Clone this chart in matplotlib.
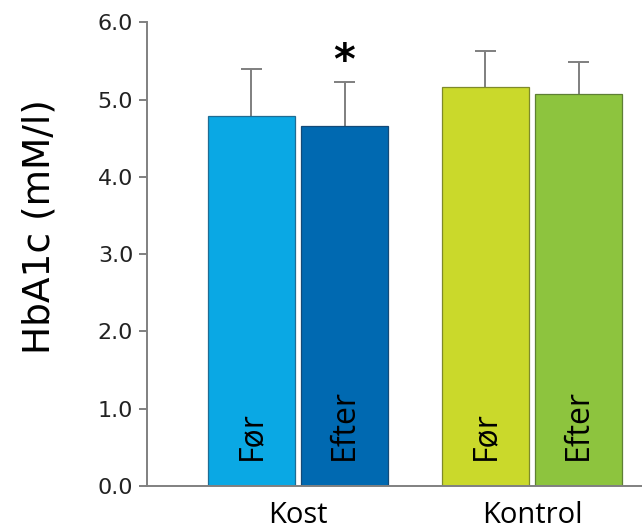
import matplotlib.pyplot as plt
import numpy as np

# HbA1c before/after, diet group vs control group
groups = ["Kost", "Kontrol"]
periods = ["Før", "Efter"]
hba1c_mean = [[4.79, 4.66], [5.16, 5.07]]
hba1c_sem = [[0.60, 0.57], [0.47, 0.42]]
significant = [[False, True], [False, False]]

bar_colors = [["#0AA8E4", "#0069B1"], ["#CAD92B", "#8DC43E"]]
edge_colors = [["#1F6C93", "#134A78"], ["#7E8A2A", "#5E7F34"]]

fig = plt.figure(figsize=(6.42, 5.30), dpi=100)
ax = fig.add_axes([0.229, 0.083, 0.771, 0.875])

width = 0.372
offset = 0.199
cap = 0.045
group_x = np.arange(len(groups))

for g, gx in enumerate(group_x):
    for p, sign in enumerate([-1, 1]):
        x = gx + sign * offset
        m = hba1c_mean[g][p]
        s = hba1c_sem[g][p]
        # upper error whisker only
        ax.vlines(x, m, m + s, color="#7f7f7f", lw=1.4, zorder=1)
        ax.hlines(m + s, x - cap, x + cap, color="#7f7f7f", lw=1.4, zorder=1)
        ax.bar(x, m, width=width, color=bar_colors[g][p],
               edgecolor=edge_colors[g][p], linewidth=0.9, zorder=2)
        ax.text(x, 0.34, periods[p], rotation=90, rotation_mode="anchor",
                ha="left", va="center", fontsize=23, family="Open Sans",
                color="black", zorder=3)
        if significant[g][p]:
            ax.annotate("*", (x, m + s), xytext=(0, -1), textcoords="offset points",
                        ha="center", va="bottom", fontsize=30, fontweight="bold",
                        family="DejaVu Sans")

ax.set_xlim(-0.645, 1.47)
ax.set_ylim(0, 6)
ax.set_yticks(np.arange(0, 6.1, 1.0))
ax.set_yticklabels([f"{v:.1f}" for v in np.arange(0, 6.1, 1.0)],
                   fontsize=16, family="DejaVu Sans", color="#222222")
ax.set_xticks([])

for sp in ["top", "right"]:
    ax.spines[sp].set_visible(False)
for sp in ["left", "bottom"]:
    ax.spines[sp].set_color("#808080")
    ax.spines[sp].set_linewidth(1.4)
ax.tick_params(axis="y", direction="out", length=6, width=1.4, color="#808080", pad=4)

for gx, name in zip(group_x, groups):
    ax.text(gx, -0.2, name, ha="center", va="top", fontsize=21,
            family="Open Sans", clip_on=False)

fig.text(0.061, 0.572, "HbA1c (mM/l)", rotation=90, ha="center", va="center",
         fontsize=27, family="DejaVu Sans")

fig.savefig("out.png", dpi=100)
